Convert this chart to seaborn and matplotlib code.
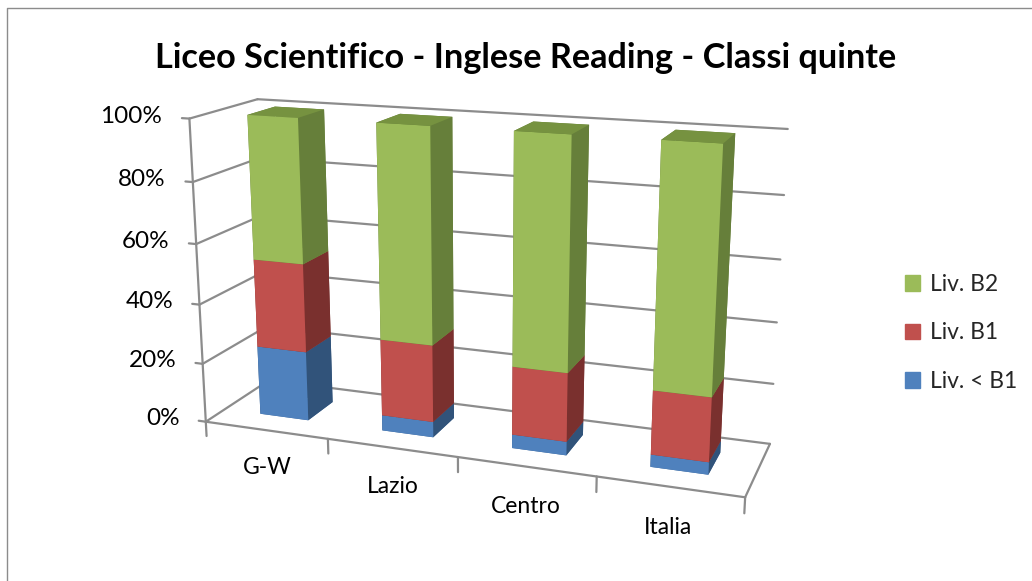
import matplotlib
matplotlib.use("Agg")
import matplotlib.pyplot as plt
import seaborn as sns
from matplotlib.lines import Line2D
from matplotlib.patches import Patch
from mpl_toolkits.mplot3d import proj3d

categories = ["G-W", "Lazio", "Centro", "Italia"]
liv_sotto = [23.5, 5.2, 4.5, 4]
liv_b1 = [29.5, 25.5, 22.3, 20.5]
liv_b2 = [47, 69.3, 73.2, 75.5]
series_names = ["Liv. < B1", "Liv. B1", "Liv. B2"]
pct_ticks = [0, 20, 40, 60, 80, 100]

sns.set_theme(style="white")
plt.rcParams["font.family"] = ["Lato", "DejaVu Sans"]

front = sns.color_palette(["#4F81BD", "#C0504D", "#9BBB59"])
side = sns.color_palette(["#31537A", "#7A302E", "#667F3A"])
top = sns.color_palette(["#3F6797", "#9A403E", "#769240"])
grid_col = "#8C8C8C"

fig = plt.figure(figsize=(10.32, 5.81), dpi=100)
ax = fig.add_axes([0.018, -0.113, 0.88, 1.22], projection="3d", computed_zorder=False)
ax.set_proj_type("persp", focal_length=0.38)
ax.view_init(elev=15.5, azim=-70)
ax.set_box_aspect((4.53, 1.12, 2.56), zoom=0.912)
ax.set_xlim(0, 4)
ax.set_ylim(0, 1)
ax.set_zlim(0, 100)
ax.set_xticks([])
ax.set_yticks([])
ax.set_zticks([])
ax.set_axis_off()


def label3d(x, y, z, s, **kw):
    # testo 2D nella posizione proiettata
    px, py, _ = proj3d.proj_transform(x, y, z, ax.get_proj())
    ax.text2D(px, py, s, transform=ax.transData, color="black", va="center", **kw)


# pareti e griglia
for p in pct_ticks:
    ax.plot([0, 0], [0, 1], [p, p], color=grid_col, lw=1.6, zorder=1)
    ax.plot([0, 4], [1, 1], [p, p], color=grid_col, lw=1.6, zorder=1)
    ax.plot([-0.06, 0], [0, 0], [p, p], color=grid_col, lw=1.6, zorder=1)
    label3d(-0.22, 0, p, f"{p}%", ha="right", fontsize=17.5)
ax.plot([0, 0], [0, 0], [0, 100], color=grid_col, lw=1.6, zorder=1)
ax.plot([0, 4], [0, 0], [0, 0], color=grid_col, lw=1.6, zorder=1)
ax.plot([4, 4], [0, 1], [0, 0], color=grid_col, lw=1.6, zorder=1)
for i in range(5):
    ax.plot([i, i], [0, 0], [0, -5], color=grid_col, lw=1.6, zorder=1)

# barre impilate
for i, name in enumerate(categories):
    bottom = 0
    for s, vals in enumerate([liv_sotto, liv_b1, liv_b2]):
        h = vals[i]
        cols = [top[s], top[s], front[s], side[s], side[s], side[s]]
        ax.bar3d(i + 0.30, 0.29, bottom, 0.40, 0.42, h, color=cols, shade=False,
                 edgecolor="none", zorder=2 + i + s * 0.1)
        bottom += h
    label3d(i + 0.5, 0, -13, name, ha="center", fontsize=16.5)

fig.text(0.509, 0.9, "Liceo Scientifico - Inglese Reading - Classi quinte", ha="center",
         va="center", fontsize=24.7, fontweight="bold", color="black")

handles = [Patch(color=front[s], label=series_names[s]) for s in [2, 1, 0]]
fig.legend(handles=handles, loc="center left", bbox_to_anchor=(0.857, 0.427), frameon=False,
           fontsize=16.5, labelspacing=1.2, handlelength=0.65, handleheight=0.65, handletextpad=0.45)

# bordo area grafico
fig.add_artist(Line2D([0.007, 0.007, 1.0], [0.0, 0.986, 0.986], color="#8C8C8C", lw=1.0))

fig.savefig("out.png", dpi=100)
